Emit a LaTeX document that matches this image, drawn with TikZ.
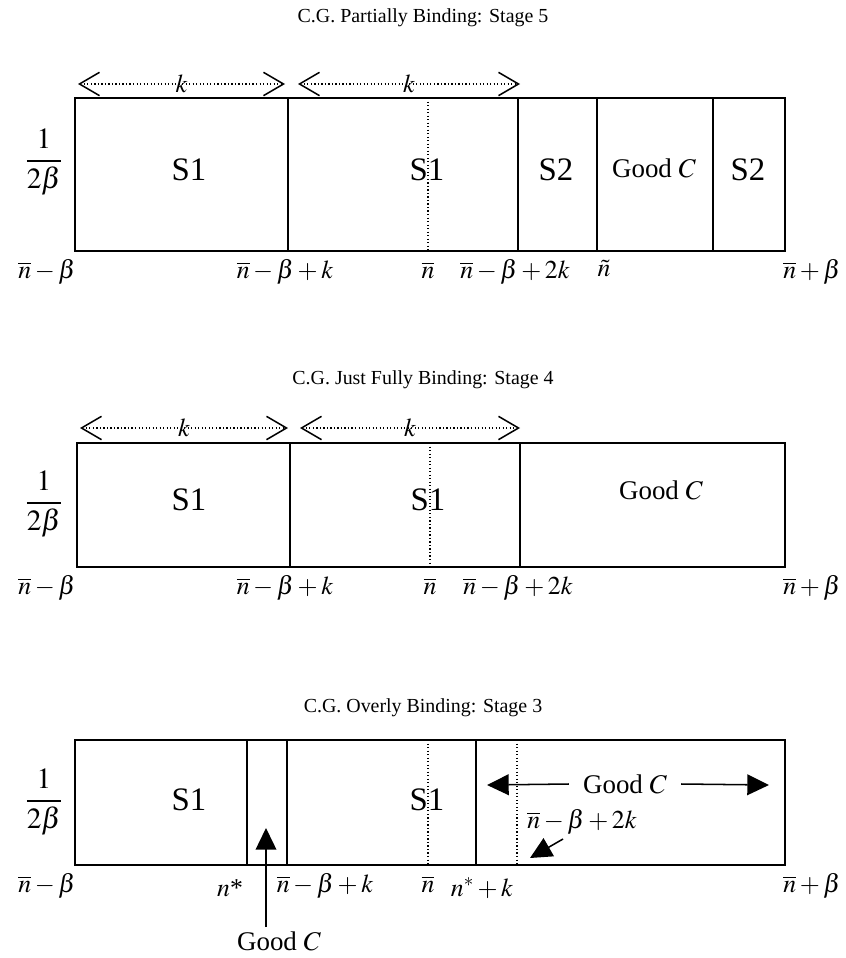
\documentclass[tikz,border=0pt]{standalone}
\usepackage{amsmath}
\usepackage{mathptmx}
\usepackage{fontspec}
\setmainfont{Liberation Serif}
\usetikzlibrary{arrows.meta,positioning}

\tikzset{
  title/.style={font=\fontsize{17}{20}\selectfont},
  cell/.style={font=\fontsize{28}{32}\selectfont},
  goodc/.style={font=\fontsize{23}{27}\selectfont},
  axis/.style={font=\fontsize{22}{26}\selectfont, inner sep=1pt},
  height/.style={font=\fontsize{25}{30}\selectfont, inner sep=1pt},
  wall/.style={line width=1.3pt},
  mid/.style={dotted, line width=1pt},
  karrow/.style={dotted, line width=1pt,
    {Straight Barb[length=0.6cm,width=0.7cm,line width=1.3pt]}-{Straight Barb[length=0.6cm,width=0.7cm,line width=1.3pt]}},
  fatarrow/.style={line width=1.3pt, -{Triangle[length=0.65cm,width=0.62cm]}}
}
\newcommand{\nb}{\overline{n}}

\begin{document}
\begin{tikzpicture}[x=0.03cm, y=-0.03cm]
\useasboundingbox (0,0) rectangle (846,958);

% Stage 5
\node[title] (t5) at (423,18) {C.G. Partially Binding: Stage 5};
\coordinate (a5) at (78,84);
\coordinate (b5) at (285,84);
\coordinate (c5) at (298,84);
\coordinate (d5) at (520,84);
\draw[karrow] (a5) -- node[axis] {$k$} (b5);
\draw[karrow] (c5) -- node[axis] {$k$} (d5);
\draw[wall] (75,98) rectangle (785,251);
\draw[wall] (288,98) -- (288,251);
\draw[wall] (518,98) -- (518,251);
\draw[wall] (597,98) -- (597,251);
\draw[wall] (713,98) -- (713,251);
\draw[mid] (428,98) -- (428,251);
\node[height] (h5) at (44,162) {$\dfrac{1}{2\beta}$};
\node[cell] (s5a) at (189,170) {S1};
\node[cell] (s5b) at (427,170) {S1};
\node[cell] (s5c) at (556,170) {S2};
\node[goodc] (g5) at (654,168) {Good $C$};
\node[cell] (s5d) at (748,170) {S2};
\node[axis] (l5a) at (47,272) {$\nb-\beta$};
\node[axis] (l5b) at (285,272) {$\nb-\beta+k$};
\node[axis] (l5c) at (428,270) {$\nb$};
\node[axis] (l5d) at (515,272) {$\nb-\beta+2k$};
\node[axis] (l5e) at (604,269) {$\tilde n$};
\node[axis] (l5f) at (812,272) {$\nb+\beta$};

% Stage 4
\node[title] (t4) at (423,380) {C.G. Just Fully Binding: Stage 4};
\coordinate (a4) at (80,428);
\coordinate (b4) at (288,428);
\coordinate (c4) at (300,428);
\coordinate (d4) at (520,428);
\draw[karrow] (a4) -- node[axis] {$k$} (b4);
\draw[karrow] (c4) -- node[axis] {$k$} (d4);
\draw[wall] (77,443) rectangle (785,567);
\draw[wall] (290,443) -- (290,567);
\draw[wall] (520,443) -- (520,567);
\draw[mid] (430,443) -- (430,567);
\node[height] (h4) at (44,504) {$\dfrac{1}{2\beta}$};
\node[cell] (s4a) at (189,500) {S1};
\node[cell] (s4b) at (428,500) {S1};
\node[goodc] (g4) at (661,490) {Good $C$};
\node[axis] (l4a) at (47,588) {$\nb-\beta$};
\node[axis] (l4b) at (285,588) {$\nb-\beta+k$};
\node[axis] (l4c) at (430,586) {$\nb$};
\node[axis] (l4d) at (518,588) {$\nb-\beta+2k$};
\node[axis] (l4f) at (812,588) {$\nb+\beta$};

% Stage 3
\node[title] (t3) at (423,708) {C.G. Overly Binding: Stage 3};
\draw[wall] (75,740) rectangle (785,865);
\draw[wall] (247,740) -- (247,865);
\draw[wall] (287,740) -- (287,865);
\draw[wall] (476,740) -- (476,865);
\draw[mid] (428,740) -- (428,865);
\draw[mid] (517,740) -- (517,865);
\node[height] (h3) at (44,802) {$\dfrac{1}{2\beta}$};
\node[cell] (s3a) at (189,800) {S1};
\node[cell] (s3b) at (427,800) {S1};
\node[goodc, inner sep=12pt] (g3) at (625,784) {Good $C$};
\coordinate (g3l) at (487,785);
\coordinate (g3r) at (769,785);
\draw[fatarrow] (g3.west) -- (g3l);
\draw[fatarrow] (g3.east) -- (g3r);
\node[axis] (l3p) at (582,822) {$\nb-\beta+2k$};
\coordinate (p3s) at (563,839);
\coordinate (p3t) at (530,858);
\draw[fatarrow] (p3s) -- (p3t);
\node[goodc] (g3b) at (279,941) {Good $C$};
\coordinate (g3t) at (266,828);
\coordinate (g3s) at (266,927);
\draw[fatarrow] (g3s) -- (g3t);
\node[axis] (l3a) at (47,886) {$\nb-\beta$};
\node[axis] (l3b) at (230,888) {$n$*};
\node[axis] (l3c) at (325,886) {$\nb-\beta+k$};
\node[axis] (l3d) at (428,884) {$\nb$};
\node[axis] (l3e) at (482,888) {$n^{*}+k$};
\node[axis] (l3f) at (812,886) {$\nb+\beta$};
\end{tikzpicture}
\end{document}
